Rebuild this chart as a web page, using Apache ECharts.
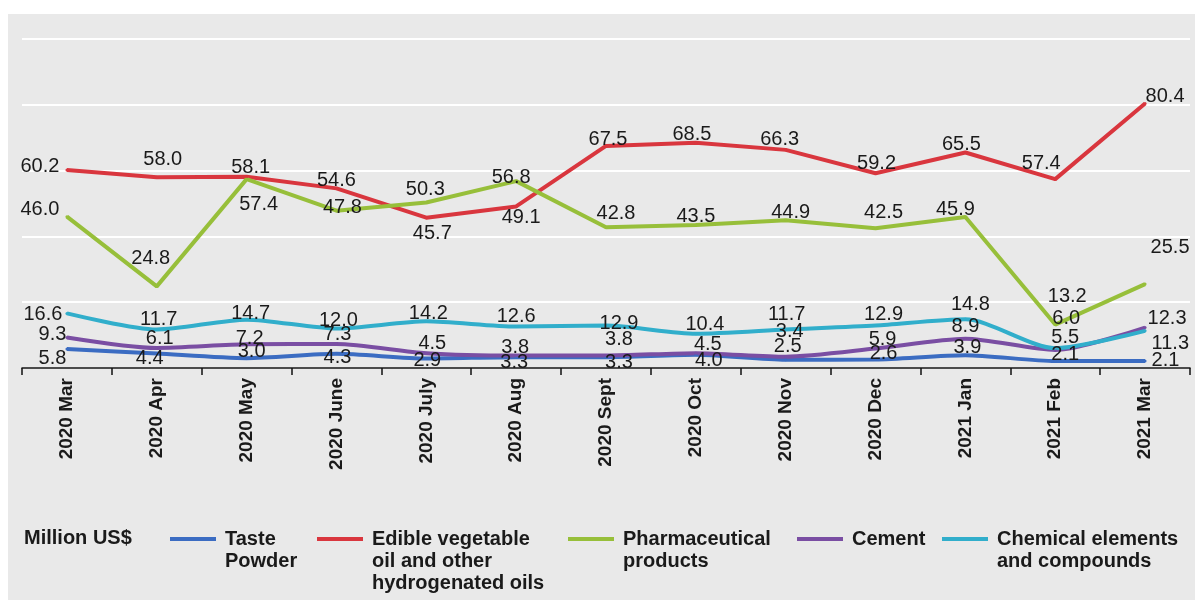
<!DOCTYPE html>
<html>
<head>
<meta charset="utf-8">
<script src="https://cdn.jsdelivr.net/npm/echarts@6/dist/echarts.min.js"></script>
<style>
html,body{margin:0;padding:0;background:#fff;}
#c{width:1195px;height:600px;}
</style>
</head>
<body>
<div id="c"></div>
<script>
const categories = ['2020 Mar','2020 Apr','2020 May','2020 June','2020 July','2020 Aug','2020 Sept','2020 Oct','2020 Nov','2020 Dec','2021 Jan','2021 Feb','2021 Mar'];
const tastePowder = [5.8, 4.4, 3.0, 4.3, 2.9, 3.3, 3.3, 4.0, 2.5, 2.6, 3.9, 2.1, 2.1];
const edibleOil = [60.2, 58.0, 58.1, 54.6, 45.7, 49.1, 67.5, 68.5, 66.3, 59.2, 65.5, 57.4, 80.4];
const pharma = [46.0, 24.8, 57.4, 47.8, 50.3, 56.8, 42.8, 43.5, 44.9, 42.5, 45.9, 13.2, 25.5];
const cement = [9.3, 6.1, 7.2, 7.3, 4.5, 3.8, 3.8, 4.5, 3.4, 5.9, 8.9, 5.5, 12.3];
const chemical = [16.6, 11.7, 14.7, 12.0, 14.2, 12.6, 12.9, 10.4, 11.7, 12.9, 14.8, 6.0, 11.3];
const yTicks = [0, 20, 40, 60, 80, 100];

// label placement (style only)
const posTaste = ['left','inside','inside','inside','inside','inside','inside','inside','top','inside','top','top','right'];
const posEdible = ['left','top','top','top','bottom','bottom','top','top','top','top','top','top','top'];
const posPharma = ['left','top','bottom','inside','top','top','top','top','top','top','top','top','top'];
const posCement = ['left','inside','inside','inside','top','top','top','top','top','top','top','top','right'];
const posChem = ['left','inside','top','inside','top','top','top','top','top','top','top','top','right'];

const offTaste = [[7,10],[-7,5],[5,-7],[1,4],[1,2],[-2,5],[13,5],[13,6],[2,4],[8,-6],[2,10],[10,11],[-1,-1]];
const offEdible = [[0,-3],[6,0],[4,8],[0,10],[6,-2],[5,-6],[2,11],[-4,9],[-6,7],[1,8],[-4,9],[-14,2],[20,11]];
const offPharma = [[0,-7],[-6,-10],[12,8],[6,-3],[-1,4],[-5,14],[10,4],[0,9],[5,10],[8,2],[-10,10],[12,-11],[25,-19]];
const offChem = [[3,1],[2,-10],[4,11],[2,-8],[2,10],[0,7],[13,15],[9,8],[1,2],[8,6],[5,3],[11,-12],[-1,13]];
const offCement = [[7,-3],[3,-9],[3,-6],[1,-9],[6,8],[-1,9],[13,1],[12,9],[4,-8],[7,8],[0,5],[10,5],[-5,-9]];

const COLORS = {
  taste: '#3b6cc2',
  edible: '#d9363e',
  pharma: '#97bf3a',
  cement: '#7a4ea3',
  chem: '#31aecb'
};

function mk(vals, pos, off) {
  return vals.map((v, i) => ({ value: v, label: { position: pos[i], offset: off[i] } }));
}

const labelStyle = {
  show: true,
  fontFamily: 'Liberation Sans, Arial, sans-serif',
  fontSize: 20,
  color: '#1a1a1a',
  distance: 6,
  formatter: p => Number(p.value).toFixed(1)
};

function series(name, color, vals, pos, off, smooth) {
  return {
    name: name,
    type: 'line',
    data: mk(vals, pos, off),
    symbol: 'circle',
    symbolSize: 3,
    showSymbol: true,
    smooth: smooth,
    lineStyle: { color: color, width: 4 },
    itemStyle: { color: color },
    label: labelStyle,
    z: 3
  };
}

const legendNames = {
  'Taste Powder': ' \n \nTaste\nPowder\n ',
  'Edible vegetable oil and other hydrogenated oils': ' \n \nEdible vegetable\noil and other\nhydrogenated oils',
  'Pharmaceutical products': ' \n \nPharmaceutical\nproducts\n ',
  'Cement': ' \n \nCement\n \n ',
  'Chemical elements and compounds': ' \n \nChemical elements\nand compounds\n '
};
const legendLefts = [170, 317, 568, 797, 942];
const seriesNames = Object.keys(legendNames);

const legends = seriesNames.map((n, i) => ({
  data: [n],
  left: legendLefts[i],
  top: 484,
  padding: 0,
  icon: 'rect',
  itemWidth: 46,
  itemHeight: 4,
  itemGap: 10,
  selectedMode: false,
  formatter: name => legendNames[name],
  textStyle: {
    fontFamily: 'Liberation Sans, Arial, sans-serif',
    fontWeight: 'bold',
    fontSize: 20,
    lineHeight: 22,
    color: '#1a1a1a',
    padding: [0, 0, 0, 4]
  }
}));

const chart = echarts.init(document.getElementById('c'), null, { renderer: 'canvas' });
chart.setOption({
  animation: false,
  backgroundColor: '#ffffff',
  graphic: [
    { type: 'rect', shape: { x: 8, y: 14, width: 1187, height: 586 }, style: { fill: '#e9e9e9' }, z: -10, silent: true },
    { type: 'text', left: 24, top: 528, style: { text: 'Million US$', fontFamily: 'Liberation Sans, Arial, sans-serif', fontWeight: 'bold', fontSize: 20, fill: '#1a1a1a' }, z: 5 }
  ],
  legend: legends,
  grid: { left: 22, right: 5, top: 39, bottom: 232, containLabel: false },
  xAxis: {
    type: 'category',
    data: categories,
    boundaryGap: true,
    axisLine: { lineStyle: { color: '#111', width: 1.5 } },
    axisTick: { show: true, length: 7, lineStyle: { color: '#111', width: 1.5 } },
    axisLabel: {
      rotate: 90,
      margin: 10,
      interval: 0,
      fontFamily: 'Liberation Sans, Arial, sans-serif',
      fontWeight: 'bold',
      fontSize: 19,
      color: '#1a1a1a'
    },
    splitLine: { show: false }
  },
  yAxis: {
    type: 'value',
    min: yTicks[0],
    max: yTicks[yTicks.length - 1],
    interval: 20,
    axisLine: { show: false },
    axisTick: { show: false },
    axisLabel: { show: false },
    splitLine: { show: true, lineStyle: { color: '#ffffff', width: 2 } }
  },
  series: [
    series('Taste Powder', COLORS.taste, tastePowder, posTaste, offTaste, 0.25),
    series('Edible vegetable oil and other hydrogenated oils', COLORS.edible, edibleOil, posEdible, offEdible, false),
    series('Pharmaceutical products', COLORS.pharma, pharma, posPharma, offPharma, false),
    series('Cement', COLORS.cement, cement, posCement, offCement, 0.25),
    series('Chemical elements and compounds', COLORS.chem, chemical, posChem, offChem, 0.25)
  ]
});
</script>
</body>
</html>
